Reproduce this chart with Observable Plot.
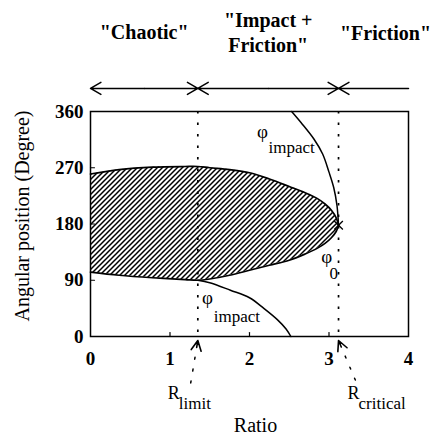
<!DOCTYPE html>
<html><head><meta charset="utf-8">
<script src="https://cdn.jsdelivr.net/npm/d3@7"></script>
<script src="https://cdn.jsdelivr.net/npm/@observablehq/plot@0.6"></script>
<style>body{margin:0;background:#fff} svg{display:block}</style>
</head><body><div id="chart"></div>
<script>
// Hatched region boundaries (Ratio vs angular position, degrees)
const ratio      = [0,   0.36, 0.78, 1.19, 1.35, 1.5, 1.75, 2.0, 2.25, 2.5, 2.7, 2.85, 2.95, 3.03, 3.09, 3.12];
const upperBound = [260, 267,  271,  272,  272,  270, 267,  262, 252,  240, 230, 221,  212,  202,  190,  178];
const lowerBound = [103, 98,   94,   91,   90,   92,  98,   106, 114,  122, 132, 141,  149,  158,  168,  178];
// phi_impact curves
const impactUpperRatio = [2.53, 2.65, 2.81, 2.92, 3.0, 3.06, 3.10, 3.12];
const impactUpperAngle = [360,  342,  316,  292,  263, 238,  210,  178];
const impactLowerRatio = [1.35, 1.5, 1.76, 2.0, 2.18, 2.35, 2.46, 2.52];
const impactLowerAngle = [90,   86,  74,   62,  45,   27,   12,   0];
// axes
const xTicks = [0, 1, 2, 3, 4];
const yTicks = [0, 90, 180, 270, 360];
// regimes
const Rlimit = 1.35, Rcritical = 3.12;
const regimeNames = ['"Chaotic"', '"Impact +\nFriction"', '"Friction"'];
const regimeStart = [0, Rlimit, Rcritical];
const regimeEnd = [Rlimit, Rcritical, 4];

const region = ratio.map((r, i) => ({r, lo: lowerBound[i], hi: upperBound[i]}));
const impUp = impactUpperRatio.map((r, i) => ({r, a: impactUpperAngle[i]}));
const impLo = impactLowerRatio.map((r, i) => ({r, a: impactLowerAngle[i]}));
const regimes = regimeNames.map((name, i) => ({name, s: regimeStart[i], e: regimeEnd[i], m: (regimeStart[i] + regimeEnd[i]) / 2}));
const topArrows = [];
regimes.forEach((g, i) => {
  if (i < regimes.length - 1) {
    topArrows.push({x1: g.m, x2: g.s}, {x1: g.m, x2: g.e});
  } else {
    topArrows.push({x1: g.e, x2: g.s});
  }
});
const tipAngle = upperBound[upperBound.length - 1];

const lineShape = {draw(ctx, l) { ctx.moveTo(0, 0); ctx.lineTo(0, -l); }};
const headShape = {draw(ctx, l) { ctx.moveTo(-5, -l + 10); ctx.lineTo(0, -l); ctx.lineTo(5, -l + 10); ctx.moveTo(0, -l); ctx.lineTo(0, -l + 7); }};
const shaftShape = {draw(ctx, l) { ctx.moveTo(0, 0); ctx.lineTo(0, -l + 8); }};

const font = "'Liberation Serif', 'Times New Roman', serif";
const yTop = 397; // arrow row above frame (data units)

const chart = Plot.plot({
  width: 432, height: 434,
  marginLeft: 90, marginRight: 24, marginTop: 111, marginBottom: 98,
  style: {fontFamily: font, background: "white", color: "black", overflow: "visible"},
  x: {domain: [0, 4]},
  y: {domain: [0, 360]},
  marks: [
    Plot.areaY(region, {x: "r", y1: "lo", y2: "hi", fill: "url(#hatch)", curve: "catmull-rom"}),
    Plot.line(region, {x: "r", y: "hi", stroke: "black", strokeWidth: 1.7, curve: "catmull-rom"}),
    Plot.line(region, {x: "r", y: "lo", stroke: "black", strokeWidth: 1.7, curve: "catmull-rom"}),
    Plot.line(impUp, {x: "r", y: "a", stroke: "black", strokeWidth: 1.5, curve: "catmull-rom"}),
    Plot.line(impLo, {x: "r", y: "a", stroke: "black", strokeWidth: 1.5, curve: "catmull-rom"}),
    Plot.ruleX([Rlimit, Rcritical], {stroke: "black", strokeWidth: 1.7, strokeDasharray: "2.5,9"}),
    Plot.dot([tipAngle], {x: Rcritical, y: d => d, symbol: "times", r: 4, stroke: "black", strokeWidth: 1.3}),
    Plot.frame({stroke: "black", strokeWidth: 1.5}),
    Plot.vector(xTicks.slice(1, -1), {x: d => d, y: 0, length: 4, anchor: "start", shape: lineShape, stroke: "black", strokeWidth: 1.2, fill: "none"}),
    Plot.vector(yTicks.slice(1, -1), {x: 0, y: d => d, length: 4, rotate: 90, anchor: "start", shape: lineShape, stroke: "black", strokeWidth: 1.2, fill: "none"}),
    Plot.axisX({ticks: xTicks, tickSize: 0, tickPadding: 15, fontSize: 19, fontWeight: "bold", label: null, tickFormat: d => String(d)}),
    Plot.axisY({ticks: yTicks, tickSize: 0, tickPadding: 7, fontSize: 19, fontWeight: "bold", label: null, tickFormat: d => String(d)}),
    Plot.text(["Angular position (Degree)"], {text: d => d, frameAnchor: "left", textAnchor: "middle", rotate: -90, dx: -68, dy: -8, fontSize: 20}),
    Plot.text(["Ratio"], {text: d => d, frameAnchor: "bottom", dx: 6, dy: 95, fontSize: 20}),
    // regime arrows and labels
    Plot.arrow(topArrows, {x1: "x1", x2: "x2", y1: yTop, y2: yTop, stroke: "black", strokeWidth: 1.5, headLength: 12, headAngle: 60}),
    Plot.text(regimes.slice(0, 2), {x: "m", y: yTop, text: "name", dy: -57, fontSize: 20, fontWeight: "bold", lineHeight: 1.25}),
    Plot.text(regimes.slice(2), {x: "m", y: yTop, text: "name", dx: 12, dy: -55, fontSize: 20, fontWeight: "bold"}),
    // phi labels
    Plot.text(["φ"], {x: 2.164, y: 327, text: d => d, fontSize: 19}),
    Plot.text(["impact"], {x: 2.24, y: 302, text: d => d, textAnchor: "start", fontSize: 17}),
    Plot.text(["φ"], {x: 1.472, y: 61, text: d => d, fontSize: 19}),
    Plot.text(["impact"], {x: 1.55, y: 32, text: d => d, textAnchor: "start", fontSize: 17}),
    Plot.text(["φ"], {x: 2.97, y: 128, text: d => d, fontSize: 19}),
    Plot.text(["0"], {x: 3.06, y: 100, text: d => d, fontSize: 17}),
    // R_limit / R_critical pointers
    Plot.vector([Rlimit], {x: d => d, y: 0, dy: 4, length: 43, rotate: 9.5, anchor: "end", shape: shaftShape, stroke: "black", strokeWidth: 1.5, strokeDasharray: "2,10", fill: "none"}),
    Plot.vector([Rlimit], {x: d => d, y: 0, dy: 4, length: 43, rotate: 9.5, anchor: "end", shape: headShape, stroke: "black", strokeWidth: 1.6, fill: "none"}),
    Plot.vector([Rcritical], {x: d => d, y: 0, dy: 4, length: 43, rotate: -23, anchor: "end", shape: shaftShape, stroke: "black", strokeWidth: 1.5, strokeDasharray: "2,10", fill: "none"}),
    Plot.vector([Rcritical], {x: d => d, y: 0, dy: 4, length: 43, rotate: -23, anchor: "end", shape: headShape, stroke: "black", strokeWidth: 1.6, fill: "none"}),
    Plot.text(["R"], {x: Rlimit, y: 0, text: d => d, textAnchor: "start", dx: -30, dy: 57, fontSize: 18}),
    Plot.text(["limit"], {x: Rlimit, y: 0, text: d => d, textAnchor: "start", dx: -19, dy: 67, fontSize: 17}),
    Plot.text(["R"], {x: Rcritical, y: 0, text: d => d, textAnchor: "start", dx: 9, dy: 57, fontSize: 18}),
    Plot.text(["critical"], {x: Rcritical, y: 0, text: d => d, textAnchor: "start", dx: 20, dy: 67, fontSize: 17})
  ]
});
const svg = chart.tagName.toLowerCase() === "svg" ? chart : chart.querySelector("svg");
d3.select(svg).insert("defs", ":first-child").html(
  '<pattern id="hatch" patternUnits="userSpaceOnUse" width="5" height="5">' +
  '<path d="M-1,1 l2,-2 M0,5 l5,-5 M4,6 l2,-2" stroke="black" stroke-width="1.5"/></pattern>');
document.getElementById("chart").appendChild(chart);
</script></body></html>
